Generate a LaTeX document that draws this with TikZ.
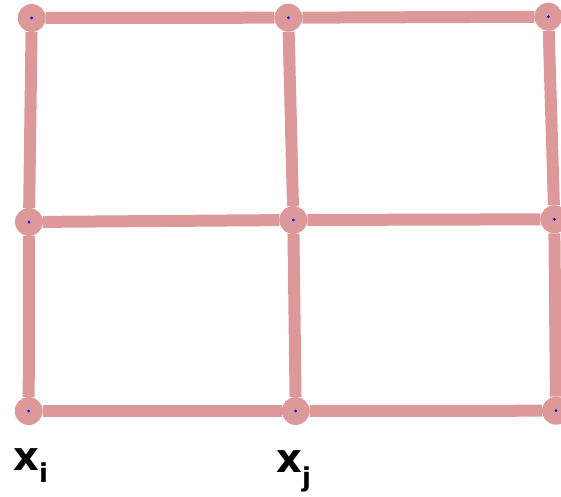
\documentclass[tikz,border=0pt]{standalone}
\usepackage{fontspec}
\setmainfont{DejaVu Sans}
\definecolor{edgepink}{RGB}{221,153,153}
\definecolor{dotblue}{RGB}{0,0,255}
\begin{document}
\begin{tikzpicture}[x=1pt,y=1pt,
  vert/.style={circle,fill=edgepink,minimum size=28pt,inner sep=0pt,outer sep=0pt},
  link/.style={draw=edgepink,line width=12pt},
  lbl/.style={anchor=base west,inner sep=0pt,font=\fontsize{40}{40}\selectfont\bfseries}]
\useasboundingbox (0,0) rectangle (561,496);
% image coords (x, 496-y)
\node[vert] (tl) at (31.7,478) {};
\node[vert] (tm) at (288.3,478.3) {};
\node[vert] (tr) at (548.3,479.3) {};
\node[vert] (ml) at (29,274) {};
\node[vert] (mm) at (293.3,276) {};
\node[vert] (mr) at (554.3,276.7) {};
\node[vert] (bl) at (28.7,85) {};
\node[vert] (bm) at (295.7,85) {};
\node[vert] (br) at (556,85.3) {};
\foreach \a/\b in {tl/tm,tm/tr,ml/mm,mm/mr,bl/bm,bm/br,tl/ml,ml/bl,tm/mm,mm/bm,tr/mr,mr/br}
  \draw[link] (\a) -- (\b);
\foreach \n in {tl,tm,tr,ml,mm,mr,bl,bm,br}
  \fill[dotblue] (\n.center) circle (1.5pt);
\node[lbl] (xi) at (13,26) {x\raisebox{-12pt}{\fontsize{26}{26}\selectfont i}};
\node[lbl] (xj) at (276,24) {x\raisebox{-14pt}{\fontsize{26}{26}\selectfont j}};
\end{tikzpicture}
\end{document}
